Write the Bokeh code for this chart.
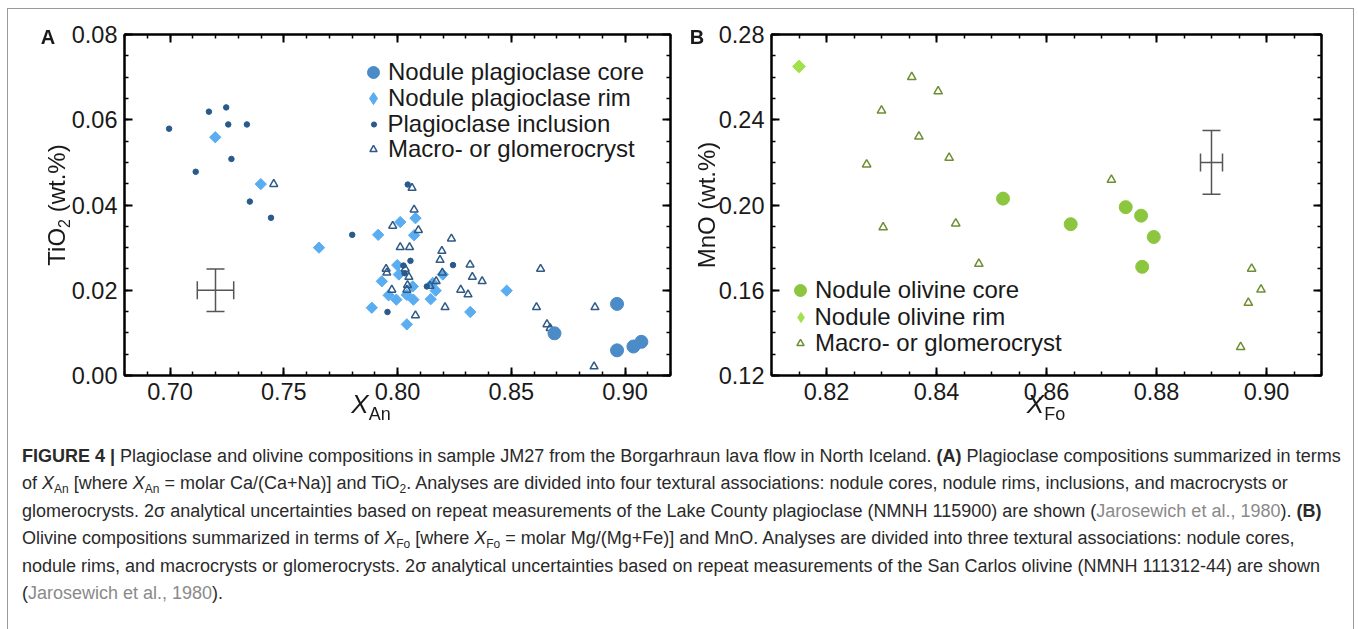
import numpy as np
from bokeh.plotting import figure
from bokeh.models import (ColumnDataSource, Range1d, LinearAxis, SingleIntervalTicker,
                          NumeralTickFormatter, Legend, LegendItem, Whisker, TeeHead, Div)
from bokeh.layouts import row, column
from bokeh.embed import file_html
from bokeh.resources import INLINE

FONT = "Liberation Sans"

# ---------------- Panel A data (X_An vs TiO2 wt.%) ----------------
a_core_x = [0.8690, 0.8965, 0.8965, 0.9037, 0.9072]
a_core_y = [0.0099, 0.0168, 0.0059, 0.0068, 0.0079]

a_rim_x = [0.7199, 0.7399, 0.7655, 0.7915, 0.7887, 0.7931, 0.7961, 0.7995, 0.8012, 0.8079,
           0.8073, 0.7999, 0.8006, 0.8199, 0.8155, 0.8067, 0.8168, 0.8480, 0.8041, 0.8070,
           0.8146, 0.8320, 0.8041]
a_rim_y = [0.0559, 0.0449, 0.0300, 0.0330, 0.0159, 0.0221, 0.0188, 0.0178, 0.0360, 0.0369,
           0.0329, 0.0259, 0.0237, 0.0237, 0.0217, 0.0209, 0.0199, 0.0199, 0.0189, 0.0178,
           0.0179, 0.0149, 0.0120]

a_inc_x = [0.6996, 0.7171, 0.7247, 0.7256, 0.7338, 0.7270, 0.7113, 0.7351, 0.7444, 0.7801,
           0.7956, 0.8045, 0.8057, 0.8244, 0.8026, 0.8031, 0.8129]
a_inc_y = [0.0579, 0.0619, 0.0629, 0.0589, 0.0589, 0.0508, 0.0478, 0.0408, 0.0370, 0.0330,
           0.0149, 0.0448, 0.0269, 0.0259, 0.0258, 0.0240, 0.0209]

a_mac_x = [0.7456, 0.7979, 0.8064, 0.8073, 0.8092, 0.8237, 0.8012, 0.8053, 0.8195, 0.8187,
           0.8319, 0.7950, 0.7953, 0.8034, 0.8197, 0.8050, 0.8329, 0.8170, 0.8372, 0.8143,
           0.8044, 0.7975, 0.8041, 0.8278, 0.8310, 0.8209, 0.8611, 0.8629, 0.8868, 0.8079,
           0.8657, 0.8671, 0.8864]
a_mac_y = [0.0449, 0.0351, 0.0440, 0.0389, 0.0341, 0.0321, 0.0301, 0.0301, 0.0292, 0.0271,
           0.0260, 0.0250, 0.0241, 0.0250, 0.0241, 0.0231, 0.0231, 0.0221, 0.0221, 0.0210,
           0.0212, 0.0201, 0.0201, 0.0201, 0.0190, 0.0160, 0.0160, 0.0250, 0.0160, 0.0141,
           0.0120, 0.0111, 0.0021]

a_err_x, a_err_y, a_err_dx, a_err_dy = [0.72], [0.02], [0.008], [0.005]

a_labels = ["Nodule plagioclase core", "Nodule plagioclase rim",
            "Plagioclase inclusion", "Macro- or glomerocryst"]

# ---------------- Panel B data (X_Fo vs MnO wt.%) ----------------
b_core_x = [0.8521, 0.8644, 0.8744, 0.8772, 0.8795, 0.8774]
b_core_y = [0.2030, 0.1910, 0.1990, 0.1950, 0.1850, 0.1710]

b_rim_x = [0.8150]
b_rim_y = [0.2650]

b_mac_x = [0.8355, 0.8403, 0.8300, 0.8368, 0.8423, 0.8273, 0.8303, 0.8435, 0.8477, 0.8718,
           0.8973, 0.8990, 0.8967, 0.8953]
b_mac_y = [0.2600, 0.2533, 0.2443, 0.2321, 0.2221, 0.2190, 0.1895, 0.1913, 0.1724, 0.2118,
           0.1701, 0.1603, 0.1541, 0.1333]

b_err_x, b_err_y, b_err_dx, b_err_dy = [0.89], [0.22], [0.002], [0.015]

b_labels = ["Nodule olivine core", "Nodule olivine rim", "Macro- or glomerocryst"]

a_xrange, a_yrange = (0.68, 0.92), (0.0, 0.08)
b_xrange, b_yrange = (0.81, 0.91), (0.12, 0.28)


def make_fig(width, left, right, xr, yr, xint, xminor, yint, yminor):
    p = figure(width=width, height=421, output_backend="svg", toolbar_location=None,
               x_range=Range1d(*xr), y_range=Range1d(*yr),
               min_border_left=left, min_border_right=right,
               min_border_top=25, min_border_bottom=55)
    p.grid.visible = False
    p.outline_line_color = "black"
    p.outline_line_width = 2
    p.background_fill_color = "white"
    p.border_fill_color = "white"
    xt = SingleIntervalTicker(interval=xint, num_minor_ticks=xminor)
    yt = SingleIntervalTicker(interval=yint, num_minor_ticks=yminor)
    p.add_layout(LinearAxis(), "above")
    p.add_layout(LinearAxis(), "right")
    p.xaxis.ticker = xt
    p.yaxis.ticker = yt
    for ax in p.xaxis + p.yaxis:
        ax.formatter = NumeralTickFormatter(format="0.00")
        ax.major_tick_in = 8
        ax.major_tick_out = 0
        ax.minor_tick_in = 4
        ax.minor_tick_out = 0
        ax.axis_line_width = 2
        ax.axis_line_color = "black"
        ax.major_tick_line_width = 2
        ax.minor_tick_line_width = 1.5
        ax.major_tick_line_color = "black"
        ax.minor_tick_line_color = "black"
        ax.major_label_text_font = FONT
        ax.major_label_text_font_size = "23.5px"
        ax.major_label_text_color = "#1a1a1a"
        ax.major_label_standoff = 7
    for ax in p.above + p.right:
        ax.major_label_text_font_size = "1px"
        ax.major_label_text_color = None
        ax.major_label_standoff = 0
    return p


def add_err(p, x, y, dx, dy):
    src = ColumnDataSource(dict(x=x, y=y, xl=[a - b for a, b in zip(x, dx)],
                                xu=[a + b for a, b in zip(x, dx)],
                                yl=[a - b for a, b in zip(y, dy)],
                                yu=[a + b for a, b in zip(y, dy)]))
    for dim, base, lo, up in (("height", "x", "yl", "yu"), ("width", "y", "xl", "xu")):
        w = Whisker(source=src, base=base, lower=lo, upper=up, dimension=dim,
                    line_color="#555555", line_width=1.5,
                    lower_head=TeeHead(size=18, line_color="#555555", line_width=1.5),
                    upper_head=TeeHead(size=18, line_color="#555555", line_width=1.5))
        p.add_layout(w)


def add_entry(p, r, label, cx, cy, gw, lx):
    # cx, cy: glyph centre relative to the frame (x from left, y from bottom)
    lg = Legend(items=[LegendItem(label=label, renderers=[r])],
                location=(cx - gw / 2, cy - 15), glyph_width=int(round(gw)), glyph_height=30,
                label_height=30, label_standoff=int(round(lx - cx - gw / 2)),
                padding=0, margin=0, spacing=0, border_line_color=None,
                background_fill_alpha=0, label_text_font=FONT,
                label_text_font_size="24px", label_text_color="#1a1a1a")
    p.add_layout(lg)


NAN = [float("nan")]

# ---------------- Panel A ----------------
pA = make_fig(677, 116, 15, a_xrange, a_yrange, 0.05, 5, 0.02, 4)
add_err(pA, a_err_x, a_err_y, a_err_dx, a_err_dy)
rA_rim = pA.scatter(a_rim_x, a_rim_y, marker="square", angle=np.pi / 4, size=8,
                    fill_color="#59adf0", line_color="#59adf0")
rA_mac = pA.scatter(a_mac_x, a_mac_y, marker="triangle", size=8, fill_color=None,
                    line_color="#2f5a86", line_width=1.5)
rA_inc = pA.scatter(a_inc_x, a_inc_y, marker="circle", size=5.5, fill_color="#285a8c",
                    line_color="#285a8c")
rA_core = pA.scatter(a_core_x, a_core_y, marker="circle", size=13, fill_color="#4a8bc8",
                     line_color="#4a8bc8")
# legend key glyph for the rotated-square (diamond) rim symbol
rA_rim_key = pA.scatter(NAN, NAN, marker="diamond", size=12, fill_color="#59adf0",
                        line_color="#59adf0")
for r, lbl, cy, gw in zip([rA_core, rA_rim_key, rA_inc, rA_mac], a_labels,
                          [303, 277, 251, 226], [30, 30, 13, 18]):
    add_entry(pA, r, lbl, 249, cy, gw, 264)

# ---------------- Panel B ----------------
pB = make_fig(669, 86, 33, b_xrange, b_yrange, 0.02, 4, 0.04, 4)
add_err(pB, b_err_x, b_err_y, b_err_dx, b_err_dy)
rB_mac = pB.scatter(b_mac_x, b_mac_y, marker="triangle", size=8.5, fill_color=None,
                    line_color="#6e8e34", line_width=1.5)
rB_rim = pB.scatter(b_rim_x, b_rim_y, marker="square", angle=np.pi / 4, size=9,
                    fill_color="#a2e04c", line_color="#a2e04c")
rB_core = pB.scatter(b_core_x, b_core_y, marker="circle", size=13, fill_color="#8cc63f",
                     line_color="#8cc63f")
rB_rim_key = pB.scatter(NAN, NAN, marker="diamond", size=12, fill_color="#a2e04c",
                        line_color="#a2e04c")
for r, lbl, cy, gw in zip([rB_core, rB_rim_key, rB_mac], b_labels, [85, 58, 32], [30, 25, 18]):
    add_entry(pB, r, lbl, 29, cy, gw, 44)

# ---------------- Texts placed around the frames (HTML, page coordinates) ----------------
BASE = "position:fixed; white-space:nowrap; font-family:'Liberation Sans'; color:#1a1a1a; line-height:1;"


def fx(cx, cy, inner, size, rot=False, extra=""):
    tr = "translate(-50%,-50%)" + (" rotate(-90deg)" if rot else "")
    return (f'<div style="{BASE} left:{cx}px; top:{cy}px; font-size:{size}px; '
            f'transform:{tr}; {extra}">{inner}</div>')


SUB = '<span style="font-size:{s}px; position:relative; top:{t}px">{x}</span>'
texts = [
    fx(48, 37, "A", 20, extra="font-weight:bold"),
    fx(697, 37, "B", 20, extra="font-weight:bold"),
    fx(57, 205, "TiO" + SUB.format(s=16, t=5, x="2") + " (wt.%)", 24, rot=True),
    fx(707, 205, "MnO (wt.%)", 24, rot=True),
    fx(371, 404, '<i>X</i>' + SUB.format(s=18, t=7, x="An"), 26),
    fx(1046, 404, '<i>X</i>' + SUB.format(s=18, t=7, x="Fo"), 26),
    ('<div style="position:fixed; left:7px; top:8px; width:1347px; height:700px; '
     'border:1px solid #9a9a9a; border-bottom:none; pointer-events:none"></div>'),
]
overlay = Div(text="".join(texts), width=1, height=1, margin=0)

# ---------------- Caption ----------------
G = '<span style="color:#8a8a8a">Jarosewich et al., 1980</span>'
CS = '<span style="font-size:12px; position:relative; top:4px">{}</span>'
XAN = '<i>X</i>' + CS.format("An")
XFO = '<i>X</i>' + CS.format("Fo")
lines = [
    '<b>FIGURE 4 |</b> Plagioclase and olivine compositions in sample JM27 from the Borgarhraun lava flow in North Iceland. <b>(A)</b> Plagioclase compositions summarized in terms',
    f'of {XAN} [where {XAN} = molar Ca/(Ca+Na)] and TiO' + CS.format("2") + '. Analyses are divided into four textural associations: nodule cores, nodule rims, inclusions, and macrocrysts or',
    f'glomerocrysts. 2&sigma; analytical uncertainties based on repeat measurements of the Lake County plagioclase (NMNH 115900) are shown ({G}). <b>(B)</b>',
    f'Olivine compositions summarized in terms of {XFO} [where {XFO} = molar Mg/(Mg+Fe)] and MnO. Analyses are divided into three textural associations: nodule cores,',
    'nodule rims, and macrocrysts or glomerocrysts. 2&sigma; analytical uncertainties based on repeat measurements of the San Carlos olivine (NMNH 111312-44) are shown',
    f'({G}).',
]
html = ('<div style="font-family:\'Liberation Sans\'; font-size:18px; line-height:26.5px; '
        'color:#2a2a2a; padding:13px 0 0 14px; white-space:nowrap">' + '<br>'.join(lines) + '</div>')
cap = Div(text=html, width=1346, height=185, margin=0)

layout = column(row(pA, pB), cap, overlay, margin=(9, 0, 0, 8))

open("out.html", "w").write(file_html(layout, INLINE))
